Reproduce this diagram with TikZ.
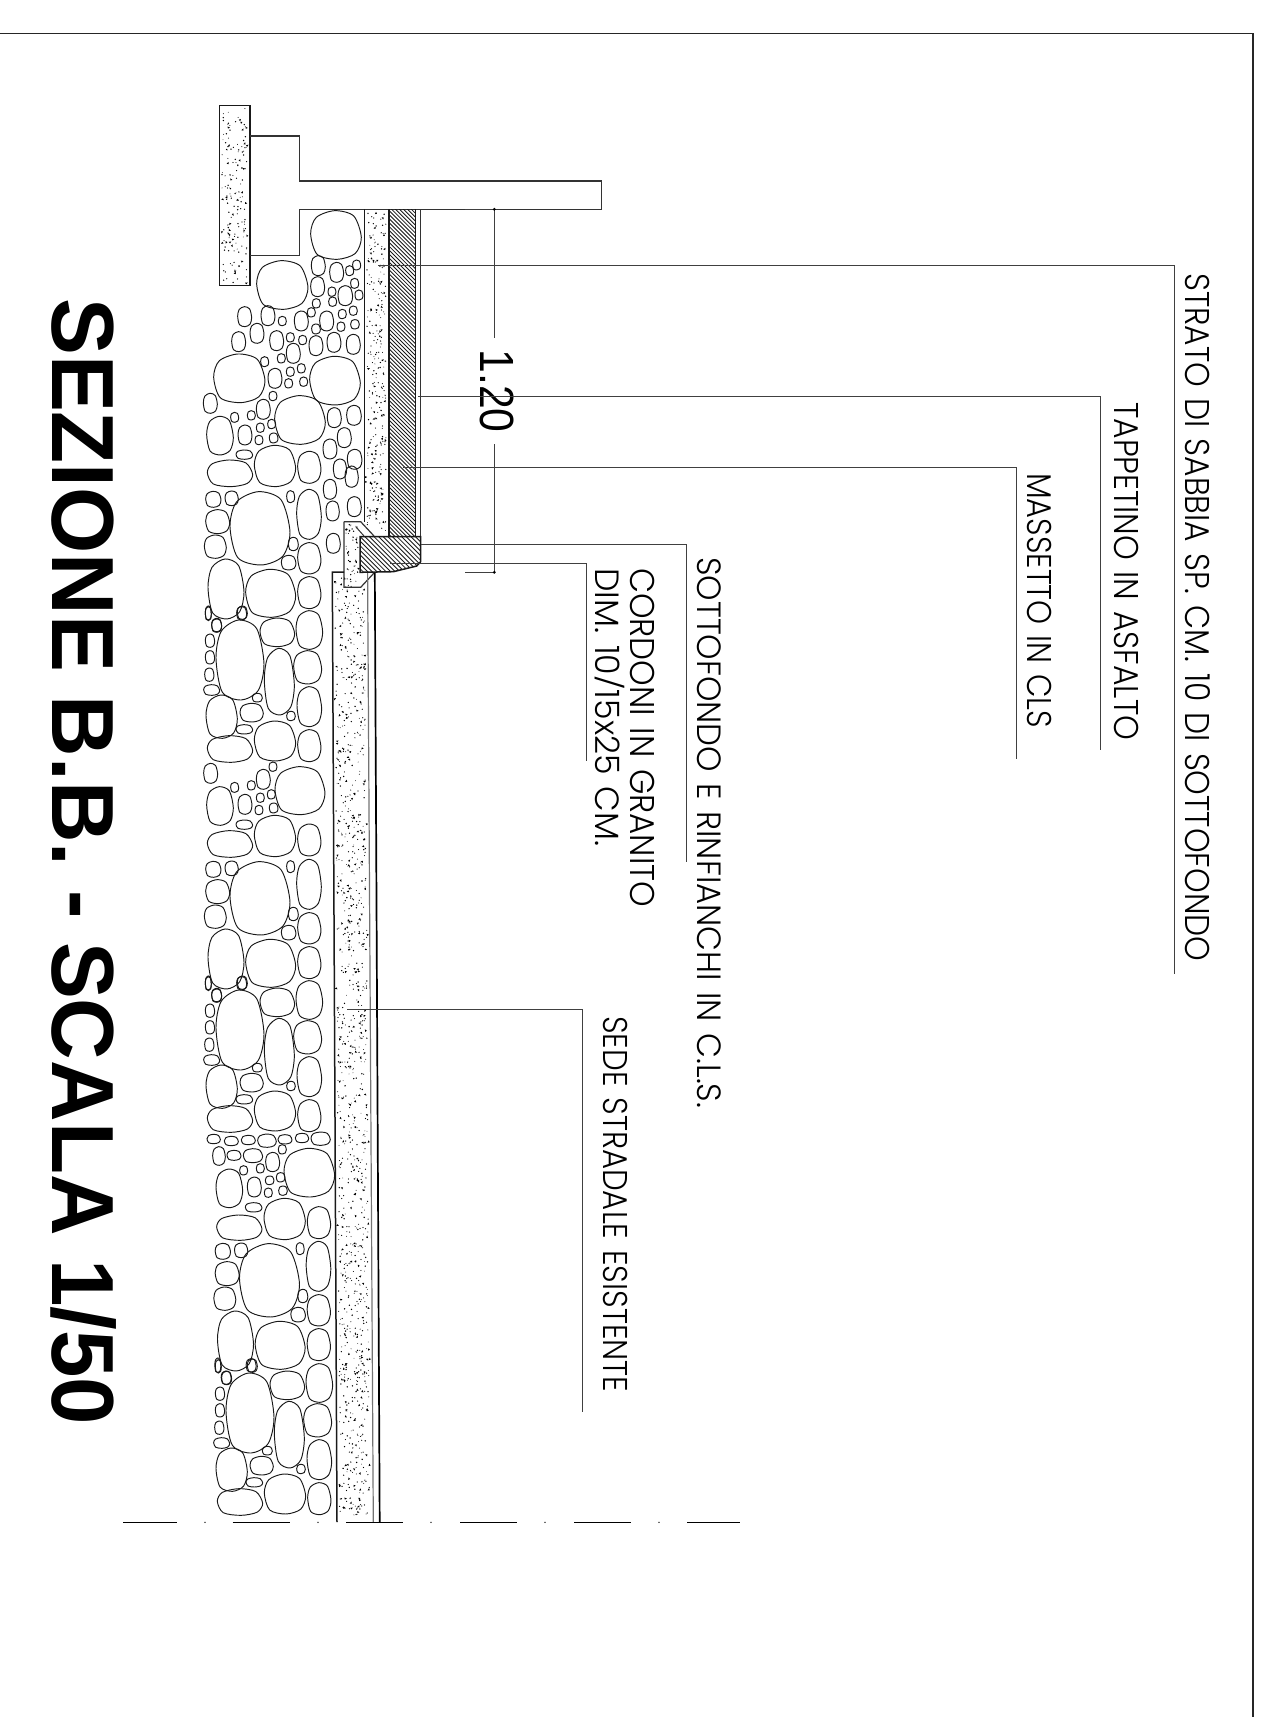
\documentclass[tikz,border=0pt]{standalone}
\usepackage{fontspec}
\usepackage{graphicx}
\setmainfont{Poppins Light}[WordSpace=1.3]
\newfontfamily\arialf{Liberation Sans}
\tikzset{
 frameline/.style={line width=1.1pt,draw=black!85},
 wall/.style={line width=1.5pt,draw=black!90},
 thinwall/.style={line width=1pt,draw=black!80},
 leader/.style={line width=.8pt,draw=black!75},
 stoneline/.style={line width=.95pt,draw=black!90},
 hatchline/.style={line width=.85pt,draw=black!90},
 lbl/.style={rotate=-90,anchor=base west,inner sep=0pt,text=black}
}
% stone: centre, radii, in units of a 3x crop
\newcommand\st[4]{\draw[stoneline] plot[smooth cycle,tension=.5] coordinates {
 ({#1+#3},{#2+.1*#4}) ({#1+.76*#3},{#2+.76*#4}) ({#1+.05*#3},{#2+#4}) ({#1-.74*#3},{#2+.8*#4})
 ({#1-#3},{#2-.05*#4}) ({#1-.78*#3},{#2-.72*#4}) ({#1-.05*#3},{#2-#4}) ({#1+.7*#3},{#2-.78*#4})};}
% speckle: x1 x2 ytop ybottom slope n
\newcommand\speck[6]{\foreach \i in {1,...,#6}{
 \pgfmathsetmacro\py{#3+rnd*(#4-#3)}
 \pgfmathsetmacro\px{#1+rnd*(#2-#1)+(\py-#3)*#5}
 \pgfmathsetmacro\pr{.4+.4*rnd}
 \fill[black] (\px,\py) circle[radius=\pr];}
 \pgfmathtruncatemacro\nf{#6/4}
 \foreach \i in {1,...,\nf}{
 \pgfmathsetmacro\py{#3+rnd*(#4-#3)}
 \pgfmathsetmacro\px{#1+rnd*(#2-#1)+(\py-#3)*#5}
 \pgfmathsetmacro\pa{rnd*360}
 \fill[black] (\px,\py) -- ++(\pa:2.6) -- ++(\pa+130:2.2) -- cycle;}}
\newcommand\lab[6]{\node[lbl] (#1) at (#2,#3) {\resizebox{#4pt}{#5pt}{\smash{#6}\vphantom{H}}};}
% repeating stone groups
\newcommand\ModA{
 \st{150}{180}{72}{120}\st{262}{97}{52}{43}\st{358}{90}{40}{58}\st{353}{202}{42}{50}
 \st{268}{245}{45}{100}\st{358}{320}{37}{60}\st{95}{350}{47}{65}\st{185}{338}{35}{28}
 \st{202}{293}{15}{13}\st{303}{348}{13}{14}\st{163}{388}{25}{14}\st{255}{423}{62}{60}
 \st{358}{437}{35}{48}\st{120}{447}{68}{40}\st{60}{122}{14}{20}\st{60}{172}{14}{20}
 \st{58}{224}{14}{20}\st{65}{270}{24}{16}\st{80}{75}{15}{20}\st{157}{38}{15}{20}\st{55}{40}{9}{20}}
\newcommand\ModB{
 \st{62}{520}{21}{30}\st{90}{618}{40}{58}\st{165}{613}{21}{30}\st{220}{538}{21}{30}\st{330}{572}{75}{72}
 \st{134}{562}{12}{15}\st{184}{556}{12}{14}\st{211}{593}{12}{14}\st{244}{583}{12}{14}\st{207}{630}{12}{14}
 \st{251}{624}{13}{15}\st{249}{500}{12}{14}\st{163}{674}{25}{14}\st{255}{708}{62}{62}\st{358}{720}{35}{48}\st{120}{732}{68}{40}}
\newcommand\ModC{
 \st{70}{808}{23}{24}\st{125}{805}{20}{22}\st{210}{895}{90}{110}\st{302}{800}{12}{18}\st{357}{853}{37}{75}
 \st{83}{875}{36}{36}\st{76}{950}{33}{35}\st{310}{942}{15}{20}\st{296}{998}{22}{22}\st{358}{985}{35}{47}
 \st{108}{1077}{54}{90}\st{242}{1090}{75}{72}\st{358}{1088}{35}{48}\st{155}{1150}{15}{20}\st{55}{1150}{9}{22}\st{80}{1187}{15}{20}}
\begin{document}
\begin{tikzpicture}[x=1pt,y=-1pt]
\useasboundingbox (0,0) rectangle (1272,1717);
\pgfmathsetseed{4711}
% frame
\draw[frameline] (0,33.5) -- (1253,33.5) -- (1253,1717);
% top stones, crop 1 units
\begin{scope}[shift={(190,90)},x=.3333pt,y=-.3333pt]
\st{438}{435}{76}{73}\st{277}{585}{77}{73}\st{148}{865}{77}{73}\st{435}{872}{76}{73}\st{330}{990}{76}{73}
\st{385}{527}{21}{30}\st{440}{547}{21}{30}\st{383}{590}{21}{30}\st{466}{617}{22}{30}\st{164}{680}{21}{30}
\st{234}{677}{21}{30}\st{201}{730}{21}{30}\st{146}{755}{21}{30}\st{260}{752}{21}{30}\st{334}{693}{21}{30}
\st{410}{693}{21}{30}\st{310}{790}{21}{30}\st{378}{767}{21}{30}\st{432}{757}{21}{30}\st{490}{763}{21}{30}
\st{255}{865}{21}{30}\st{220}{958}{21}{30}\st{61}{940}{21}{30}\st{433}{983}{21}{30}\st{492}{976}{22}{30}
\st{165}{1035}{21}{30}\st{90}{1037}{40}{58}\st{463}{1043}{21}{30}\st{420}{1077}{21}{30}\st{494}{1108}{22}{30}
\st{479}{542}{12}{15}\st{500}{525}{12}{15}\st{494}{580}{12}{15}\st{507}{615}{12}{15}\st{426}{605}{12}{14}
\st{428}{635}{12}{14}\st{379}{640}{12}{14}\st{364}{667}{12}{14}\st{277}{693}{12}{14}\st{457}{672}{12}{14}
\st{490}{662}{12}{14}\st{495}{703}{13}{14}\st{453}{710}{12}{14}\st{378}{717}{13}{15}\st{301}{742}{12}{14}
\st{338}{750}{12}{14}\st{224}{815}{12}{15}\st{274}{805}{12}{14}\st{334}{835}{12}{14}\st{301}{845}{12}{14}
\st{296}{880}{12}{14}\st{341}{875}{12}{14}\st{249}{918}{12}{14}\st{134}{982}{12}{15}\st{184}{976}{12}{14}
\st{245}{1002}{12}{14}\st{211}{1013}{12}{14}\st{207}{1050}{12}{14}\st{251}{1044}{13}{15}
\st{163}{1094}{25}{14}\st{255}{1128}{62}{62}\st{358}{1132}{35}{48}\st{120}{1150}{68}{40}\st{450}{1137}{20}{30}
\st{485}{1160}{20}{32}\st{420}{1198}{20}{30}\st{428}{1263}{20}{30}\st{493}{1250}{21}{30}\st{430}{1360}{21}{30}
\end{scope}
\begin{scope}[shift={(190,230)},x=.3333pt,y=-.3333pt]\ModC\end{scope}
\begin{scope}[shift={(190,600)},x=.3333pt,y=-.3333pt]\ModA\ModB\ModC\end{scope}
\begin{scope}[shift={(190,970)},x=.3333pt,y=-.3333pt]\ModA\end{scope}
% transition row, crop 3 units
\begin{scope}[shift={(190,1050)},x=.3333pt,y=-.3333pt]
\st{71}{267}{20}{14}\st{124}{273}{21}{14}\st{175}{270}{21}{14}\st{231}{272}{28}{20}\st{285}{268}{21}{14}
\st{336}{264}{20}{14}\st{392}{266}{29}{20}\st{87}{318}{19}{28}\st{132}{316}{21}{15}\st{189}{317}{29}{21}
\st{248}{336}{21}{29}\st{277}{298}{12}{14}\st{161}{361}{12}{14}\st{211}{355}{12}{14}\st{358}{368}{76}{73}
\st{118}{415}{40}{58}\st{193}{411}{21}{30}\st{239}{391}{13}{13}\st{272}{382}{13}{14}\st{235}{428}{12}{14}\st{279}{422}{13}{14}
\st{191}{472}{25}{14}\st{284}{507}{62}{62}\st{387}{518}{35}{48}\st{148}{533}{68}{38}
\end{scope}
\begin{scope}[shift={(199.5,982)},x=.3333pt,y=-.3333pt]\ModC\end{scope}
\begin{scope}[shift={(200,1353)},x=.3333pt,y=-.3333pt]\ModA\end{scope}
% speckled bands
\speck{222}{247}{108}{283}{0}{130}
\speck{367}{386}{212}{533}{0}{220}
\speck{346}{358}{524}{585}{0}{35}
\speck{335}{365}{575}{1518}{.0049}{850}
% retaining post and slab
\draw[wall] (219.3,105.7) rectangle (250,285.3);
\draw[thinwall,line width=1.2pt] (250,136) -- (299.3,136) -- (299.3,181) -- (601.7,181) -- (601.7,209.3) -- (299.3,209.3) -- (299.3,255.3) -- (250,255.3);
% asphalt hatch
\begin{scope}
\clip (389,209.3) rectangle (415.7,536);
\foreach \k in {0,...,96}{\draw[hatchline] (389,{175+3.95*\k}) -- ++(30,30);}
\end{scope}
% layers
\draw[wall] (364.7,209.3) -- (364.7,521.7);
\draw[wall] (389,209.3) -- (389,536);
\draw[wall] (415.7,209.3) -- (415.7,536.7);
\draw[thinwall] (420.7,209.3) -- (420.7,536.7);
% curb hatch
\begin{scope}
\clip (360,536.7) -- (420.7,536.7) -- (420.7,561.7) -- (416.7,566) -- (393.3,571.7) -- (360,572.3) -- cycle;
\foreach \k in {0,...,24}{\draw[hatchline] (360,{472+4.6*\k}) -- ++(65,65);}
\end{scope}
\draw[wall] (360,536.7) -- (420.7,536.7) -- (420.7,561.7) -- (416.7,566) -- (393.3,571.7) -- (360,572.3) -- cycle;
% bedding under the curb
\draw[thinwall,line width=1.2pt] (344,521.7) -- (360.7,521.7) -- (374,536);
\draw[thinwall,line width=1.2pt] (344,521.7) -- (344,587.3) -- (360.7,587.3) -- (374,573);
\draw[thinwall] (356,527) -- (364,536);
% road
\draw[wall] (344,572) -- (332.3,572) -- (337,1522);
\draw[line width=1.2pt,draw=black!55] (367.6,573) -- (373.3,1522);
\draw[line width=1.7pt] (374.8,573) -- (379.7,1522);
% centre line
\draw[line width=1.1pt] (123,1522.3) -- (177,1522.3);
\foreach \s in {232.7,346,460,574}{\draw[line width=1.1pt] (\s,1522.3) -- ++(57,0);}
\draw[line width=1.1pt] (687,1522.3) -- (740,1522.3);
\foreach \s in {205,318,431,545,659}{\fill (\s,1522.3) circle[radius=.7];}
% dimension
\coordinate (dimT) at (494.3,209.3);
\coordinate (dimB) at (494.3,572.3);
\node[rotate=-90,inner sep=0pt,text=black] (dimlabel) at (497,391) {\arialf\resizebox{83pt}{33pt}{\smash{1.20}\vphantom{1}}};
\draw[leader] (dimT) -- (494.3,338.3);
\draw[leader] (494.3,444.3) -- (dimB);
\draw[leader] (465,209.3) -- (dimT);
\draw[leader] (465,572.3) -- (dimB);
\fill (dimT) circle[radius=1.6];
\fill (dimB) circle[radius=1.6];
% leaders
\coordinate (l1a) at (378,265.5); \coordinate (l1b) at (1174,974);
\coordinate (l2a) at (418.3,396); \coordinate (l2b) at (1100,750);
\coordinate (l3a) at (403,467);   \coordinate (l3b) at (1016,758.6);
\coordinate (l4a) at (420.7,544.7); \coordinate (l4b) at (686,861.5);
\coordinate (l5a) at (390,563);   \coordinate (l5b) at (586.7,761);
\coordinate (l6a) at (347.3,1009.3); \coordinate (l6b) at (582.4,1412);
\foreach \n in {1,...,6}{\draw[leader] (l\n a) -| (l\n b);}
% labels
\lab{t1}{1185}{273}{688}{24}{STRATO DI SABBIA SP. CM. 10 DI SOTTOFONDO}
\lab{t2}{1114}{402}{338}{24}{TAPPETINO IN ASFALTO}
\lab{t3}{1027.5}{473}{255}{24}{MASSETTO IN CLS}
\lab{t4}{697}{557}{551}{23.5}{SOTTOFONDO E RINFIANCHI IN C.L.S.}
\lab{t5}{630}{568}{339}{24}{CORDONI IN GRANITO}
\lab{t6}{595}{568}{278}{23.5}{DIM. 10\raisebox{.12em}{\scalebox{1}[.8]{/}}15x25 CM.}
\lab{t7}{603}{1016}{376}{24}{SEDE STRADALE ESISTENTE}
\node[lbl,text=black] (title) at (52,298) {\arialf\bfseries\resizebox{1126pt}{60.7pt}{\smash{SEZIONE B.B. - SCALA 1/50}\vphantom{H}}};
\end{tikzpicture}
\end{document}
